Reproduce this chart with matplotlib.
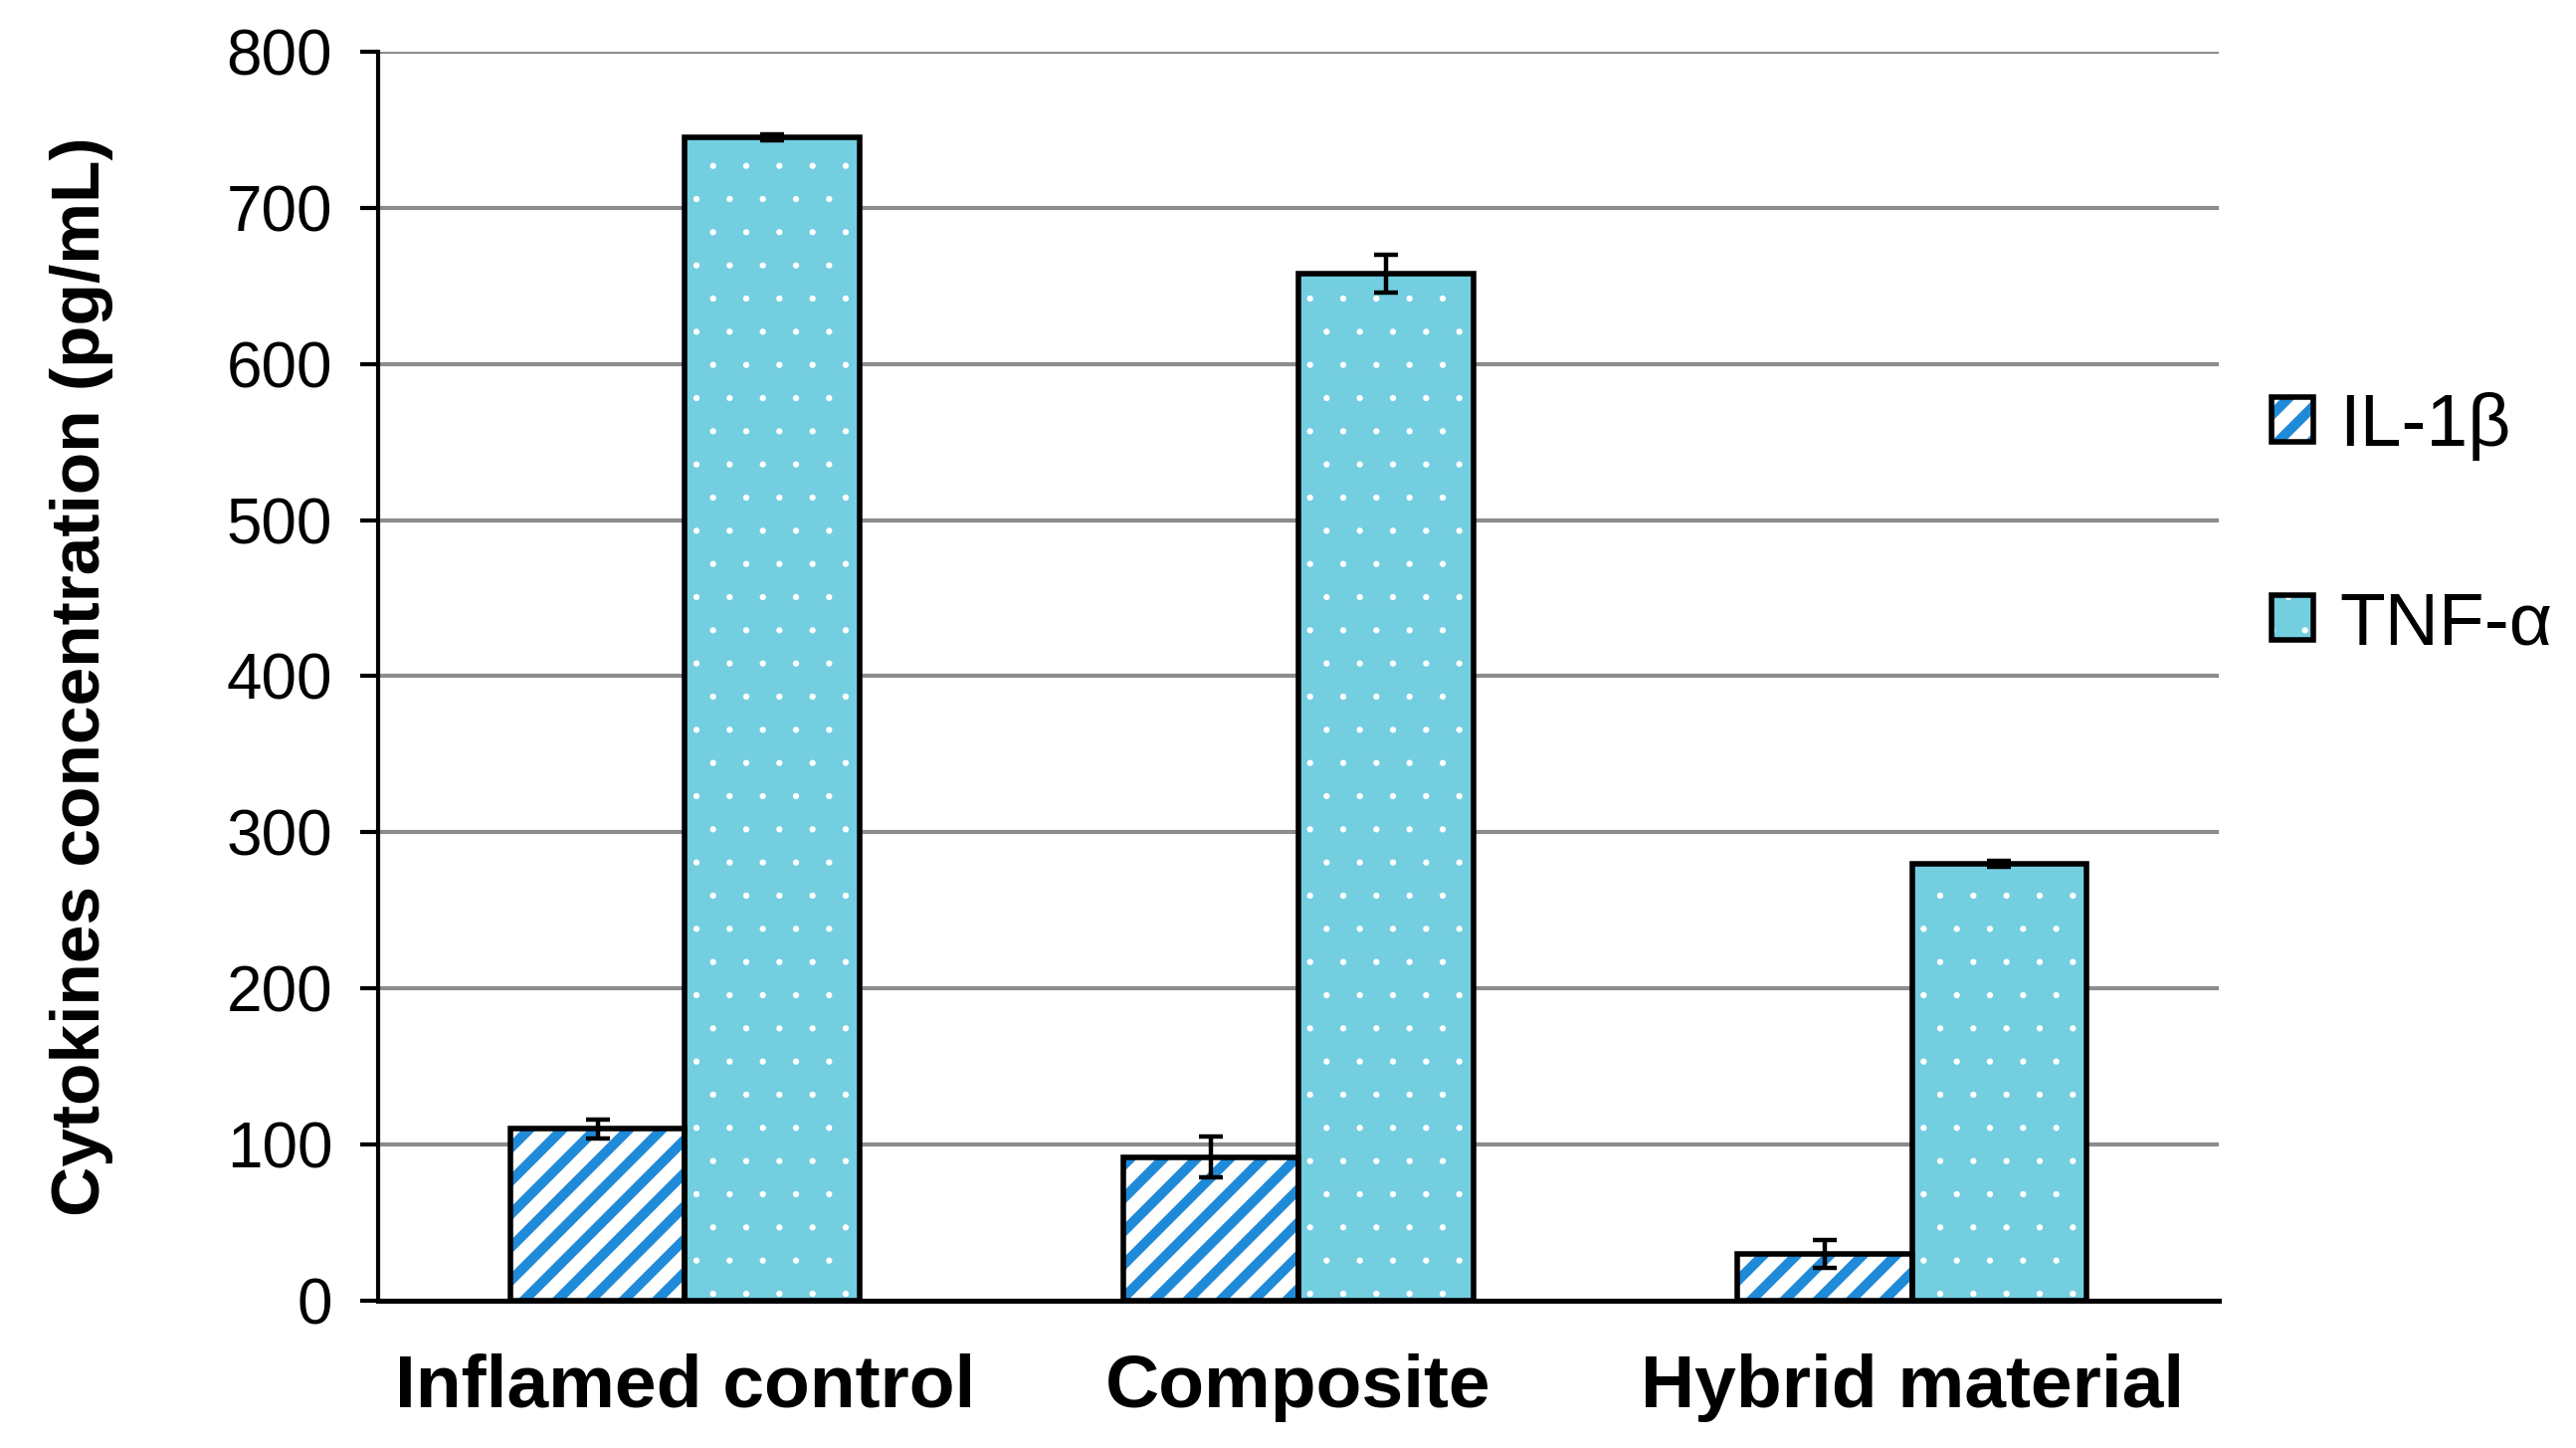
import matplotlib
matplotlib.use('Agg')
import matplotlib.pyplot as plt
from matplotlib import hatch as mhatch
from matplotlib.patches import Patch, Rectangle
from matplotlib.legend_handler import HandlerPatch
import numpy as np

categories = ['Inflamed control', 'Composite', 'Hybrid material']
il1b_values = [110, 92, 30]
il1b_errors = [6, 13, 9]
tnfa_values = [745, 658, 280]
tnfa_errors = [2, 12, 2]
series_labels = ['IL-1\u03b2', 'TNF-\u03b1']
y_ticks = [0, 100, 200, 300, 400, 500, 600, 700, 800]

stripe_blue = '#1f8ad8'
tnf_fill = '#73cee0'

plt.rcParams['font.family'] = ['Liberation Sans', 'DejaVu Sans']
# smaller white dots for the '.' hatch
mhatch.SmallFilledCircles.size = 0.06


def make_legend_box(legend, orig_handle, xdescent, ydescent, width, height, fontsize):
    # keep the hatch line width of the original patch in the legend box
    with plt.rc_context({'hatch.linewidth': getattr(orig_handle, '_hatch_linewidth', 1.0)}):
        return Rectangle((-xdescent, -ydescent), width, height)


fig = plt.figure(figsize=(12.945, 7.275), dpi=200)
axs = fig.add_axes([0.1468, 0.1017, 0.8613 - 0.1468, 0.9643 - 0.1017])

x = np.arange(len(categories))
width = 0.285

# IL-1b: blue stripes on white, then black outline on top
with plt.rc_context({'hatch.linewidth': 3.6}):
    axs.bar(x - width / 2, il1b_values, width, color='white', edgecolor=stripe_blue,
            hatch='//', linewidth=0, zorder=3)
    h1_fill = Patch(facecolor='white', edgecolor=stripe_blue, hatch='//', linewidth=0)
axs.bar(x - width / 2, il1b_values, width, fill=False, edgecolor='black',
        linewidth=2.0, zorder=4)
# TNF-a: light blue with white dots
with plt.rc_context({'hatch.linewidth': 0.8}):
    axs.bar(x + width / 2, tnfa_values, width, color=tnf_fill, edgecolor='white',
            hatch='.', linewidth=0, zorder=3)
    h2_fill = Patch(facecolor=tnf_fill, edgecolor='white', hatch='.', linewidth=0)
axs.bar(x + width / 2, tnfa_values, width, fill=False, edgecolor='black',
        linewidth=2.0, zorder=4)

axs.errorbar(x - width / 2, il1b_values, yerr=il1b_errors, fmt='none', ecolor='black',
             elinewidth=1.6, capsize=4.2, capthick=1.6, zorder=5)
axs.errorbar(x + width / 2, tnfa_values, yerr=tnfa_errors, fmt='none', ecolor='black',
             elinewidth=1.6, capsize=4.2, capthick=1.6, zorder=5)

axs.set_xlim(-0.5, 2.5)
axs.set_ylim(0, 800)
axs.set_yticks(y_ticks)
axs.set_xticks(x)
axs.set_xticklabels(categories, fontsize=27, fontweight='bold')
axs.tick_params(axis='x', length=0, pad=19)
axs.tick_params(axis='y', labelsize=23, length=6.5, width=1.5, direction='out', pad=10)
axs.set_ylabel('Cytokines concentration (pg/mL)', fontsize=25, fontweight='bold', labelpad=41)

axs.yaxis.grid(True, color='#8c8c8c', linewidth=1.5, zorder=0)
axs.set_axisbelow(True)
for side in ['top', 'right']:
    axs.spines[side].set_visible(False)
axs.spines['left'].set_linewidth(1.5)
axs.spines['bottom'].set_linewidth(1.8)

h1 = (h1_fill, Patch(fill=False, edgecolor='black', linewidth=2.0))
h2 = (h2_fill, Patch(fill=False, edgecolor='black', linewidth=2.0))
fig.legend([h1, h2], series_labels, loc='center left', bbox_to_anchor=(0.882, 0.637),
           frameon=False, fontsize=27, handlelength=0.55, handleheight=0.55,
           handletextpad=0.35, labelspacing=1.73, borderpad=0, borderaxespad=0,
           handler_map={Patch: HandlerPatch(patch_func=make_legend_box)})

fig.savefig('out.png', dpi=200)
